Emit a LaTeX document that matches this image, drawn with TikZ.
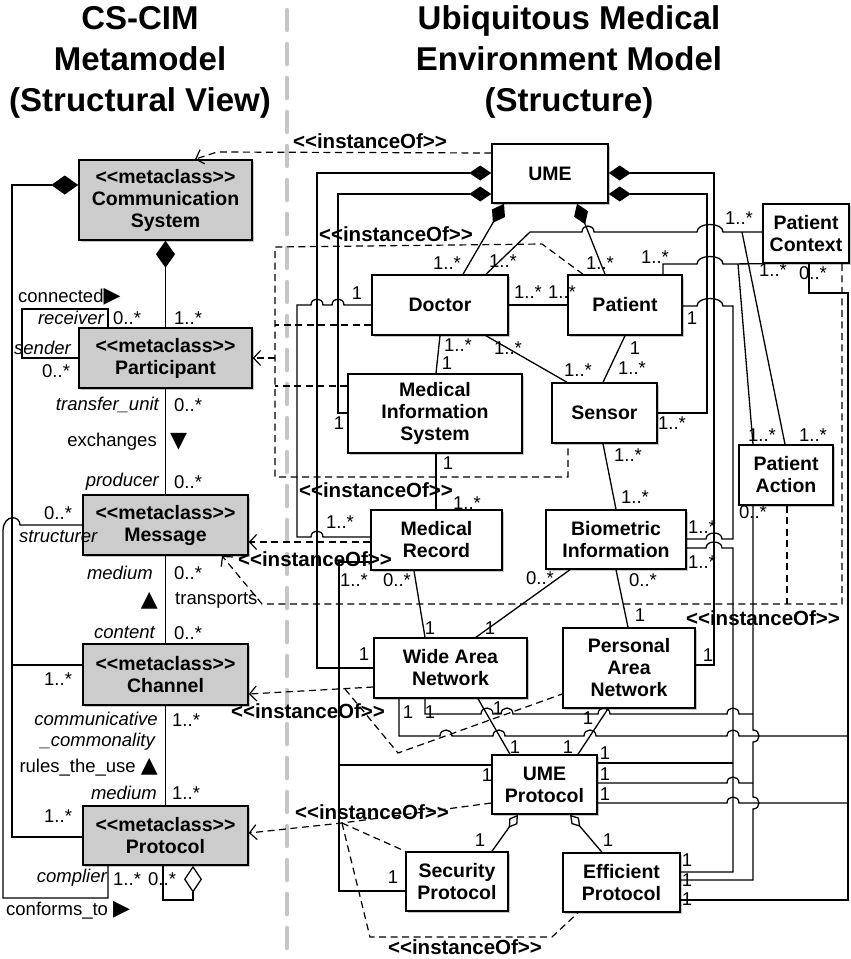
\documentclass[tikz,border=0pt]{standalone}
\usepackage{fontspec}
\setmainfont{Liberation Sans}[Ligatures=TeXOff]
\newfontfamily\symfnt{DejaVu Sans}
\usetikzlibrary{arrows.meta,shadows}

\newcommand{\bxfont}{\fontsize{19.5}{22}\selectfont\bfseries}
\newcommand{\lblfont}{\fontsize{18.5}{21}\selectfont}
\newcommand{\ttlfont}{\fontsize{33}{41}\selectfont\bfseries}
\newcommand{\rtri}{{\symfnt\fontsize{22}{22}\selectfont ▶}}
\newcommand{\dtri}{{\symfnt\fontsize{22}{22}\selectfont ▼}}
\newcommand{\utri}{{\symfnt\fontsize{22}{22}\selectfont ▲}}

\tikzset{
  bx/.style={draw, line width=1.5pt, align=center, font=\bxfont, inner sep=0pt,
    drop shadow={shadow xshift=2pt, shadow yshift=-2pt, fill=black!45, opacity=0.5}},
  meta/.style={bx, fill=gray!40},
  cls/.style={bx, fill=white},
  wh/.style 2 args={minimum width=#1pt, minimum height=#2pt},
  lbl/.style={font=\lblfont, inner sep=0pt},
  role/.style={font=\lblfont\itshape, inner sep=0pt},
  inst/.style={font=\fontsize{20.5}{22}\selectfont\bfseries, inner sep=0pt},
  ttl/.style={font=\ttlfont, align=center, inner sep=0pt},
  conn/.style={line width=1.3pt},
  dsh/.style={line width=1.2pt, dash pattern=on 7pt off 4.5pt},
  iof/.style={dsh, -{Straight Barb[length=7pt,width=15pt]}},
  comp/.style={conn, {Diamond[length=22pt,width=15pt]}-},
  compl/.style={conn, {Diamond[length=27pt,width=19pt]}-},
  aggr/.style={conn, {Diamond[open,length=16pt,width=10pt]}-},
  divider/.style={gray!45, line width=4.5pt, dash pattern=on 20pt off 14pt, line cap=round}
}

\begin{document}
\begin{tikzpicture}[x=1pt, y=-1pt]
  \useasboundingbox (0,0) rectangle (851,959);
  \draw[divider] (287,10) -- (287,950);
  \node[ttl] (tleft) at (140,62) {CS-CIM\\Metamodel\\(Structural View)};
  \node[ttl] (tright) at (569,62) {Ubiquitous Medical\\Environment Model\\(Structure)};

  \node[meta, wh={173}{80}] (cs) at (165.5,200) {<<metaclass>>\\Communication\\System};
  \node[meta, wh={173}{60}] (part) at (165.5,358) {<<metaclass>>\\Participant};
  \node[meta, wh={165}{60}] (msg) at (165.5,525) {<<metaclass>>\\Message};
  \node[meta, wh={165}{61}] (chan) at (165.5,674.5) {<<metaclass>>\\Channel};
  \node[meta, wh={165}{59}] (prot) at (165.5,835.5) {<<metaclass>>\\Protocol};

  \node[cls, wh={116}{59}] (ume) at (550,173.5) {UME};
  \node[cls, wh={86}{59}] (pc) at (806,233.5) {Patient\\Context};
  \node[cls, wh={136}{60}] (doc) at (440,305) {Doctor};
  \node[cls, wh={114}{60}] (pat) at (625,305) {Patient};
  \node[cls, wh={174}{79}] (mis) at (435,413.5) {Medical\\Information\\System};
  \node[cls, wh={105}{60}] (sen) at (604.5,413) {Sensor};
  \node[cls, wh={94}{60}] (pa) at (786,475) {Patient\\Action};
  \node[cls, wh={131}{60}] (mr) at (436.5,540) {Medical\\Record};
  \node[cls, wh={140}{59}] (bio) at (616,539.5) {Biometric\\Information};
  \node[cls, wh={153}{60}] (wan) at (450.5,668) {Wide Area\\Network};
  \node[cls, wh={132}{80}] (pan) at (629,668) {Personal\\Area\\Network};
  \node[cls, wh={105}{59}] (umep) at (544.5,784.5) {UME\\Protocol};
  \node[cls, wh={102}{59}] (sec) at (457,881.5) {Security\\Protocol};
  \node[cls, wh={117}{59}] (eff) at (621.5,882.5) {Efficient\\Protocol};

  \coordinate (dpc) at (742,232);
  \coordinate (ppc) at (738,264);

  \draw[compl] (cs.south) -- (part.north);
  \draw[compl] (cs.west|-0,185) -- (12,185) -- (12,837) -- (prot.west|-0,837);
  \draw[conn] (12,665) -- (chan.west|-0,665);
  \draw[conn] (part.north-|108,0) -- (108,309) -- (22,309) -- (22,358) -- (part.west|-0,358);
  \draw[conn] (part.south) -- (msg.north);
  \draw[conn] (msg.south) -- (chan.north);
  \draw[conn] (chan.south) -- (prot.north);
  \draw[conn] (msg.west|-0,525) -- (20,525) .. controls (20,515) and (4,514) .. (3,530) -- (3,898) -- (108,898) -- (prot.south-|108,0);
  \draw[conn, {Diamond[open,length=27pt,width=18pt]}-] (prot.south-|193,0) -- (193,900) -- (163,900) -- (prot.south-|163,0);

  \draw[comp] (ume.west|-0,173) -- (317,173) -- (317,668) -- (wan.west|-0,668);
  \draw[comp] (ume.west|-0,194) -- (338,194) -- (338,413) -- (mis.west|-0,413);
  \draw[conn] (doc.west|-0,305) -- (344,305) .. controls (344,297) and (332,297) .. (332,305) -- (323,305) .. controls (323,297) and (311,297) .. (311,305) -- (297,305) -- (297,537) -- (311,537) .. controls (311,529) and (323,529) .. (323,537) -- (mr.west|-0,537);
  \draw[conn] (mr.west|-0,562) -- (339,562) -- (339,891) -- (sec.west|-0,891);
  \draw[conn] (339,765) -- (umep.west|-0,765);
  \draw[comp] (ume.south-|504,0) -- (doc.north-|463,0);
  \draw[comp] (ume.south-|577,0) -- (pat.north-|605,0);
  \draw[conn] (doc.north-|486,0) -- (530,232) -- (582,232) .. controls (582,224) and (594,224) .. (594,232) -- (697,232) .. controls (697,222) and (723,222) .. (723,232) -- (pc.west|-0,232);
  \draw[conn] (pat.north-|663,0) -- (663,264) -- (697,264) .. controls (697,254) and (723,254) .. (723,264) -- (pc.south west);
  \draw[conn] (dpc) -- (pa.north-|785,0);
  \draw[conn] (ppc) -- (pa.north-|753,0);
  \draw[conn] (pat.south-|625,0) -- (sen.north-|603,0);
  \draw[conn] (doc.south-|486,0) -- (sen.north-|567,0);
  \draw[conn] (doc.south-|440,0) -- (mis.north-|436,0);
  \draw[conn] (mis.south-|436,0) -- (mr.north-|436,0);
  \draw[conn] (doc.east) -- (pat.west);
  \draw[conn] (sen.south-|603,0) -- (bio.north-|616,0);
  \draw[conn] (mr.south-|414,0) -- (wan.north-|425,0);
  \draw[conn] (bio.south-|570,0) -- (wan.north-|476,0);
  \draw[conn] (bio.south-|616,0) -- (pan.north-|628,0);
  \draw[comp] (ume.east|-0,173) -- (714,173) -- (714,665) -- (pan.east|-0,665);
  \draw[comp] (ume.east|-0,194) -- (707,194) -- (707,413) -- (sen.east|-0,413);
  \draw[conn] (pat.east|-0,306) -- (697,306) .. controls (697,296) and (723,296) .. (723,306) -- (733,306) -- (733,539) -- (722,539) .. controls (722,531) and (706,531) .. (706,539) -- (bio.east|-0,539);
  \draw[conn] (bio.east|-0,548) -- (706,548) .. controls (706,540) and (722,540) .. (722,548) -- (733,548) -- (733,872) -- (eff.east|-0,872);
  \draw[conn] (pa.south-|753,0) -- (753,730) .. controls (761,730) and (761,742) .. (753,742) -- (753,797) .. controls (761,797) and (761,809) .. (753,809) -- (753,880) -- (eff.east|-0,880);
  \draw[conn] (pc.south-|809,0) -- (809,293) -- (848,293) -- (848,900) -- (eff.east|-0,900);
  \draw[conn] (wan.south-|399,0) -- (399,736) -- (440,736) .. controls (440,728) and (452,728) .. (452,736) -- (493,736) .. controls (493,728) and (505,728) .. (505,736) -- (584,736) .. controls (584,728) and (596,728) .. (596,736) -- (727,736) .. controls (727,728) and (739,728) .. (739,736) -- (848,736);
  \draw[conn] (wan.south-|425,0) -- (425,714) -- (481,714) .. controls (481,706) and (493,706) .. (493,714) -- (501,714) .. controls (501,706) and (513,706) .. (513,714) -- (598,714) .. controls (598,706) and (610,706) .. (610,714) -- (727,714) .. controls (727,706) and (739,706) .. (739,714) -- (753,714);
  \draw[conn] (umep.east|-0,763) -- (733,763);
  \draw[conn] (umep.east|-0,783) -- (727,783) .. controls (727,775) and (739,775) .. (739,783) -- (753,783);
  \draw[conn] (umep.east|-0,803) -- (727,803) .. controls (727,795) and (739,795) .. (739,803) -- (848,803);
  \draw[conn] (wan.south-|478,0) -- (umep.north-|510,0);
  \draw[conn] (pan.south-|608,0) -- (umep.north-|578,0);
  \draw[aggr] (umep.south-|518,0) -- (sec.north-|492,0);
  \draw[aggr] (umep.south-|570,0) -- (eff.north-|602,0);

  \draw[iof] (ume.west|-0,153) -- (217,152) -- (cs.north-|195,0);
  \draw[dsh] (pat.north-|583,0) -- (542,244) -- (275,247) -- (275,477) -- (568,477) -- (sen.south-|568,0);
  \draw[dsh] (doc.west|-0,325) -- (275,325);
  \draw[dsh] (mis.west|-0,386) -- (275,386);
  \draw[iof] (275,358) -- (part.east|-0,358);
  \draw[iof] (mr.west|-0,542) -- (msg.east|-0,542);
  \draw[dsh] (pa.south-|787,0) -- (787,604);
  \draw[iof] (pc.south-|842,0) -- (842,604) -- (262,604) -- (msg.south-|222,0);
  \draw[iof] (wan.west|-0,687) -- (chan.east|-0,694);
  \draw[dsh] (345,689) -- (398,753) -- (pan.west|-0,694);
  \draw[iof] (umep.west|-0,803) -- (342,823) -- (prot.east|-0,833);
  \draw[dsh] (342,823) -- (sec.north west);
  \draw[dsh] (342,823) -- (370,937) -- (552,937) -- (eff.south-|578,0);

  \node[lbl, anchor=west] (lcon) at (18,297) {connected\rtri};
  \node[role, anchor=east] (lrec) at (104,318) {receiver};
  \node[lbl, anchor=west] (lrecm) at (113,318) {0..*};
  \node[lbl, anchor=west] (lcsm) at (174,318) {1..*};
  \node[role, anchor=west] (lsnd) at (14,348) {sender};
  \node[lbl, anchor=west] (lsndm) at (42,371) {0..*};
  \node[role, anchor=east] (ltu) at (159,405) {transfer\_unit};
  \node[lbl, anchor=west] (ltum) at (174,405) {0..*};
  \node[lbl, anchor=east] (lexc) at (157,442) {exchanges};
  \node[lbl, anchor=west] (lexca) at (170,442) {\dtri};
  \node[role, anchor=east] (lpro) at (159,482) {producer};
  \node[lbl, anchor=west] (lprom) at (174,482) {0..*};
  \node[lbl, anchor=west] (lstrm) at (44,513) {0..*};
  \node[role, anchor=west] (lstr) at (19,537) {structurer};
  \node[role, anchor=east] (lmed) at (153,573) {medium};
  \node[lbl, anchor=west] (lmedm) at (174,573) {0..*};
  \node[lbl, anchor=east] (ltra) at (158,601) {\utri};
  \node[lbl, anchor=west] (ltrn) at (175,600) {transports};
  \node[role, anchor=east] (lcnt) at (155,633) {content};
  \node[lbl, anchor=west] (lcntm) at (174,633) {0..*};
  \node[lbl, anchor=west] (lchm) at (44,679) {1..*};
  \node[role, anchor=east] (lcc) at (158,719) {communicative};
  \node[lbl, anchor=west] (lccm) at (172,720) {1..*};
  \node[role, anchor=east] (lcc2) at (155,742) {\_commonality};
  \node[lbl, anchor=east] (lrul) at (158,767) {rules\_the\_use \utri};
  \node[role, anchor=east] (lmd2) at (157,793) {medium};
  \node[lbl, anchor=west] (lmd2m) at (172,793) {1..*};
  \node[lbl, anchor=west] (lprm) at (44,816) {1..*};
  \node[role, anchor=east] (lcpl) at (107,878) {complier};
  \node[lbl, anchor=west] (lcplm) at (113,879) {1..*};
  \node[lbl, anchor=west] (lselfm) at (148,879) {0..*};
  \node[lbl, anchor=west] (lcnf) at (6,910) {conforms\_to \rtri};

  \node[lbl] (r1) at (357,293) {1};
  \node[lbl] (r2) at (340,522) {1..*};
  \node[lbl] (r3) at (339,423) {1};
  \node[lbl] (r4) at (364,654) {1};
  \node[lbl] (r5) at (447,263) {1..*};
  \node[lbl] (r6) at (503,261) {1..*};
  \node[lbl] (r7) at (528,292) {1..*};
  \node[lbl] (r8) at (562,292) {1..*};
  \node[lbl] (r9) at (600,263) {1..*};
  \node[lbl] (r10) at (655,257) {1..*};
  \node[lbl] (r11) at (739,218) {1..*};
  \node[lbl] (r12) at (773,270) {1..*};
  \node[lbl] (r13) at (813,273) {0..*};
  \node[lbl] (r14) at (692,318) {1};
  \node[lbl] (r15) at (458,345) {1..*};
  \node[lbl] (r16) at (447,363) {1};
  \node[lbl] (r17) at (508,348) {1..*};
  \node[lbl] (r18) at (578,370) {1..*};
  \node[lbl] (r19) at (635,348) {1};
  \node[lbl] (r20) at (632,368) {1..*};
  \node[lbl] (r21) at (672,423) {1..*};
  \node[lbl] (r22) at (448,463) {1};
  \node[lbl] (r23) at (467,503) {1..*};
  \node[lbl] (r24) at (628,455) {1..*};
  \node[lbl] (r25) at (635,497) {1..*};
  \node[lbl] (r26) at (762,435) {1..*};
  \node[lbl] (r27) at (813,435) {1..*};
  \node[lbl] (r28) at (753,512) {0..*};
  \node[lbl] (r29) at (702,527) {1..*};
  \node[lbl] (r30) at (702,562) {1..*};
  \node[lbl] (r31) at (354,580) {1..*};
  \node[lbl] (r32) at (397,580) {0..*};
  \node[lbl] (r33) at (540,578) {0..*};
  \node[lbl] (r34) at (643,580) {0..*};
  \node[lbl] (r35) at (430,628) {1};
  \node[lbl] (r36) at (490,628) {1};
  \node[lbl] (r37) at (640,615) {1};
  \node[lbl] (r38) at (708,655) {1};
  \node[lbl] (r39) at (408,712) {1};
  \node[lbl] (r40) at (430,712) {1};
  \node[lbl] (r41) at (498,708) {1};
  \node[lbl] (r42) at (515,747) {1};
  \node[lbl] (r43) at (568,747) {1};
  \node[lbl] (r44) at (588,718) {1};
  \node[lbl] (r45) at (605,753) {1};
  \node[lbl] (r46) at (605,774) {1};
  \node[lbl] (r47) at (605,794) {1};
  \node[lbl] (r48) at (487,775) {1};
  \node[lbl] (r49) at (480,840) {1};
  \node[lbl] (r50) at (393,877) {1};
  \node[lbl] (r51) at (608,840) {1};
  \node[lbl] (r52) at (687,860) {1};
  \node[lbl] (r53) at (687,880) {1};
  \node[lbl] (r54) at (687,899) {1};

  \node[inst] (i1) at (370,141) {<<instanceOf>>};
  \node[inst] (i2) at (396,234) {<<instanceOf>>};
  \node[inst] (i3) at (376,490) {<<instanceOf>>};
  \node[inst] (i4) at (315,559) {<<instanceOf>>};
  \node[inst] (i5) at (763,618) {<<instanceOf>>};
  \node[inst] (i6) at (308,711) {<<instanceOf>>};
  \node[inst] (i7) at (372,812) {<<instanceOf>>};
  \node[inst] (i8) at (465,947) {<<instanceOf>>};
\end{tikzpicture}
\end{document}
